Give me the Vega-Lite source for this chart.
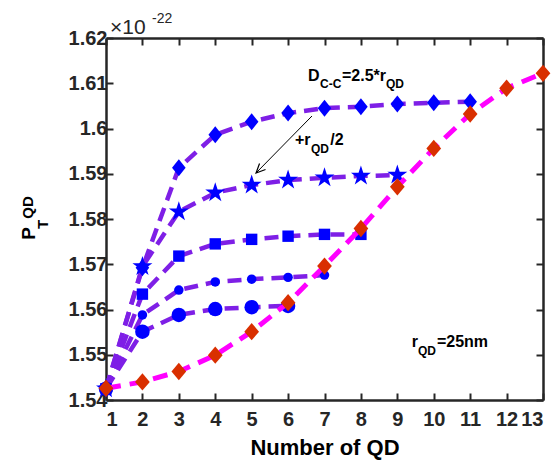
{
  "$schema": "https://vega.github.io/schema/vega-lite/v6.json",
  "width": 437,
  "height": 362,
  "autosize": {"type": "none"},
  "padding": {"left": 106, "top": 38, "right": 9, "bottom": 60},
  "background": "white",
  "config": {
    "view": {"stroke": null},
    "font": "Liberation Sans",
    "axis": {
      "domainColor": "#262626",
      "domainWidth": 2.5,
      "tickColor": "#262626",
      "tickWidth": 2,
      "tickSize": -7,
      "labelFont": "Liberation Sans",
      "labelFontWeight": "bold",
      "labelFontSize": 20,
      "labelColor": "#262626",
      "grid": false,
      "titleFont": "Liberation Sans",
      "titleFontWeight": "bold",
      "titleFontSize": 22,
      "titleColor": "#000000"
    }
  },
  "datasets": {
    "blue": [
      {"n": 1, "p": 1.5425, "series": "diamond"},
      {"n": 2, "p": 1.5692, "series": "diamond"},
      {"n": 3, "p": 1.5913, "series": "diamond"},
      {"n": 4, "p": 1.5986, "series": "diamond"},
      {"n": 5, "p": 1.6015, "series": "diamond"},
      {"n": 6, "p": 1.6034, "series": "diamond"},
      {"n": 7, "p": 1.6045, "series": "diamond"},
      {"n": 8, "p": 1.6048, "series": "diamond"},
      {"n": 9, "p": 1.6054, "series": "diamond"},
      {"n": 10, "p": 1.6057, "series": "diamond"},
      {"n": 11, "p": 1.6059, "series": "diamond"},
      {"n": 1, "p": 1.5425, "series": "star"},
      {"n": 2, "p": 1.5695, "series": "star"},
      {"n": 3, "p": 1.5816, "series": "star"},
      {"n": 4, "p": 1.5858, "series": "star"},
      {"n": 5, "p": 1.5875, "series": "star"},
      {"n": 6, "p": 1.5886, "series": "star"},
      {"n": 7, "p": 1.5891, "series": "star"},
      {"n": 8, "p": 1.5895, "series": "star"},
      {"n": 9, "p": 1.5897, "series": "star"},
      {"n": 1, "p": 1.5425, "series": "square"},
      {"n": 2, "p": 1.5634, "series": "square"},
      {"n": 3, "p": 1.5718, "series": "square"},
      {"n": 4, "p": 1.5745, "series": "square"},
      {"n": 5, "p": 1.5755, "series": "square"},
      {"n": 6, "p": 1.5762, "series": "square"},
      {"n": 7, "p": 1.5766, "series": "square"},
      {"n": 8, "p": 1.5766, "series": "square"},
      {"n": 1, "p": 1.5425, "series": "small circle"},
      {"n": 2, "p": 1.5588, "series": "small circle"},
      {"n": 3, "p": 1.5643, "series": "small circle"},
      {"n": 4, "p": 1.5661, "series": "small circle"},
      {"n": 5, "p": 1.5667, "series": "small circle"},
      {"n": 6, "p": 1.5671, "series": "small circle"},
      {"n": 7, "p": 1.5676, "series": "small circle"},
      {"n": 1, "p": 1.5425, "series": "large circle"},
      {"n": 2, "p": 1.5551, "series": "large circle"},
      {"n": 3, "p": 1.5588, "series": "large circle"},
      {"n": 4, "p": 1.5601, "series": "large circle"},
      {"n": 5, "p": 1.5605, "series": "large circle"},
      {"n": 6, "p": 1.5608, "series": "large circle"}
    ],
    "red": [
      {"n": 1, "p": 1.5426},
      {"n": 2, "p": 1.5440},
      {"n": 3, "p": 1.5463},
      {"n": 4, "p": 1.5499},
      {"n": 5, "p": 1.5551},
      {"n": 6, "p": 1.5615},
      {"n": 7, "p": 1.5696},
      {"n": 8, "p": 1.5779},
      {"n": 9, "p": 1.5871},
      {"n": 10, "p": 1.5956},
      {"n": 11, "p": 1.6032},
      {"n": 12, "p": 1.6089},
      {"n": 13, "p": 1.6122}
    ],
    "bigText": [
      {"n": 6.546, "p": 1.6105, "t": "D"},
      {"n": 7.48, "p": 1.6105, "t": "=2.5*r"},
      {"n": 6.19, "p": 1.59635, "t": "+r"},
      {"n": 7.16, "p": 1.59635, "t": "/2"},
      {"n": 9.394, "p": 1.55171, "t": "r"},
      {"n": 10.088, "p": 1.55171, "t": "=25nm"}
    ],
    "smallText": [
      {"n": 6.876, "p": 1.60895, "t": "C-C"},
      {"n": 8.688, "p": 1.60895, "t": "QD"},
      {"n": 6.63, "p": 1.59459, "t": "QD"},
      {"n": 9.567, "p": 1.54999, "t": "QD"}
    ],
    "arrow": [
      {"n": 6.656, "p": 1.60276, "n2": 5.12, "p2": 1.59017}
    ],
    "expo": [
      {"n": 1.11, "p": 1.62099, "t": "×10", "size": 21},
      {"n": 2.263, "p": 1.62325, "t": "-22", "size": 14}
    ],
    "ytitle": [
      {"n": -0.963, "p": 1.5768, "t": "P", "size": 19},
      {"n": -1.004, "p": 1.58254, "t": "QD", "size": 15},
      {"n": -0.5925, "p": 1.57878, "t": "T", "size": 15}
    ]
  },
  "resolve": {"axis": {"x": "independent", "y": "independent"}},
  "layer": [
    {
      "data": {"name": "blue"},
      "mark": {"type": "line", "color": "#7e1fe6", "strokeWidth": 4.5, "strokeDash": [14, 8]},
      "encoding": {
        "x": {"field": "n", "type": "quantitative", "scale": {"domain": [1, 13], "nice": false, "zero": false},
          "axis": {"orient": "bottom", "values": [1,2,3,4,5,6,7,8,9,10,11,12,13], "format": "d", "title": "Number of QD", "labelPadding": 16, "titlePadding": 8}},
        "y": {"field": "p", "type": "quantitative", "scale": {"domain": [1.54, 1.62], "nice": false, "zero": false},
          "axis": {"orient": "left", "values": [1.54,1.55,1.56,1.57,1.58,1.59,1.6,1.61,1.62], "format": ".2~f", "title": null, "labelPadding": 6}},
        "detail": {"field": "series"}
      }
    },
    {
      "data": {"name": "blue"},
      "transform": [{"filter": "datum.series == 'diamond'"}],
      "mark": {"type": "point", "shape": "M0,-1L0.8,0L0,1L-0.8,0Z", "filled": true, "opacity": 1, "color": "#0000ff", "size": 289},
      "encoding": {
        "x": {"field": "n", "type": "quantitative", "scale": {"domain": [1, 13], "nice": false, "zero": false}, "axis": null},
        "y": {"field": "p", "type": "quantitative", "scale": {"domain": [1.54, 1.62], "nice": false, "zero": false}, "axis": null}
      }
    },
    {
      "data": {"name": "blue"},
      "transform": [{"filter": "datum.series == 'star'"}],
      "mark": {"type": "point", "shape": "M0,-1L0.2245,-0.309L0.951,-0.309L0.363,0.118L0.588,0.809L0,0.382L-0.588,0.809L-0.363,0.118L-0.951,-0.309L-0.2245,-0.309Z", "filled": true, "opacity": 1, "color": "#0000ff", "size": 440},
      "encoding": {
        "x": {"field": "n", "type": "quantitative", "scale": {"domain": [1, 13], "nice": false, "zero": false}, "axis": null},
        "y": {"field": "p", "type": "quantitative", "scale": {"domain": [1.54, 1.62], "nice": false, "zero": false}, "axis": null}
      }
    },
    {
      "data": {"name": "blue"},
      "transform": [{"filter": "datum.series == 'square'"}],
      "mark": {"type": "point", "shape": "square", "filled": true, "opacity": 1, "color": "#0000ff", "size": 130},
      "encoding": {
        "x": {"field": "n", "type": "quantitative", "scale": {"domain": [1, 13], "nice": false, "zero": false}, "axis": null},
        "y": {"field": "p", "type": "quantitative", "scale": {"domain": [1.54, 1.62], "nice": false, "zero": false}, "axis": null}
      }
    },
    {
      "data": {"name": "blue"},
      "transform": [{"filter": "datum.series == 'small circle'"}],
      "mark": {"type": "point", "shape": "circle", "filled": true, "opacity": 1, "color": "#0000ff", "size": 90},
      "encoding": {
        "x": {"field": "n", "type": "quantitative", "scale": {"domain": [1, 13], "nice": false, "zero": false}, "axis": null},
        "y": {"field": "p", "type": "quantitative", "scale": {"domain": [1.54, 1.62], "nice": false, "zero": false}, "axis": null}
      }
    },
    {
      "data": {"name": "blue"},
      "transform": [{"filter": "datum.series == 'large circle'"}],
      "mark": {"type": "point", "shape": "circle", "filled": true, "opacity": 1, "color": "#0000ff", "size": 210},
      "encoding": {
        "x": {"field": "n", "type": "quantitative", "scale": {"domain": [1, 13], "nice": false, "zero": false}, "axis": null},
        "y": {"field": "p", "type": "quantitative", "scale": {"domain": [1.54, 1.62], "nice": false, "zero": false}, "axis": null}
      }
    },
    {
      "data": {"name": "red"},
      "mark": {"type": "line", "color": "#ff00ff", "strokeWidth": 5, "strokeDash": [15, 9]},
      "encoding": {
        "x": {"field": "n", "type": "quantitative", "scale": {"domain": [1, 13], "nice": false, "zero": false},
          "axis": {"orient": "top", "values": [1,2,3,4,5,6,7,8,9,10,11,12,13], "labels": false, "title": null}},
        "y": {"field": "p", "type": "quantitative", "scale": {"domain": [1.54, 1.62], "nice": false, "zero": false},
          "axis": {"orient": "right", "values": [1.54,1.55,1.56,1.57,1.58,1.59,1.6,1.61,1.62], "labels": false, "title": null}}
      }
    },
    {
      "data": {"name": "red"},
      "mark": {"type": "point", "shape": "M0,-1L0.85,0L0,1L-0.85,0Z", "filled": true, "opacity": 1, "color": "#d92f00", "size": 300},
      "encoding": {
        "x": {"field": "n", "type": "quantitative", "scale": {"domain": [1, 13], "nice": false, "zero": false}, "axis": null},
        "y": {"field": "p", "type": "quantitative", "scale": {"domain": [1.54, 1.62], "nice": false, "zero": false}, "axis": null}
      }
    },
    {
      "data": {"name": "arrow"},
      "mark": {"type": "rule", "color": "#000000", "strokeWidth": 1},
      "encoding": {
        "x": {"field": "n", "type": "quantitative", "scale": {"domain": [1, 13], "nice": false, "zero": false}, "axis": null},
        "y": {"field": "p", "type": "quantitative", "scale": {"domain": [1.54, 1.62], "nice": false, "zero": false}, "axis": null},
        "x2": {"field": "n2"},
        "y2": {"field": "p2"}
      }
    },
    {
      "data": {"name": "arrow"},
      "mark": {"type": "point", "shape": "M-0.6,-1.3L0,0L0.6,-1.3", "filled": false, "stroke": "#000000", "strokeWidth": 1.2, "opacity": 1, "size": 200, "angle": 45},
      "encoding": {
        "x": {"field": "n2", "type": "quantitative", "scale": {"domain": [1, 13], "nice": false, "zero": false}, "axis": null},
        "y": {"field": "p2", "type": "quantitative", "scale": {"domain": [1.54, 1.62], "nice": false, "zero": false}, "axis": null}
      }
    },
    {
      "data": {"name": "bigText"},
      "mark": {"type": "text", "align": "left", "baseline": "alphabetic", "font": "Liberation Sans", "fontWeight": "bold", "fontSize": 16, "color": "#000000"},
      "encoding": {
        "x": {"field": "n", "type": "quantitative", "scale": {"domain": [1, 13], "nice": false, "zero": false}, "axis": null},
        "y": {"field": "p", "type": "quantitative", "scale": {"domain": [1.54, 1.62], "nice": false, "zero": false}, "axis": null},
        "text": {"field": "t"}
      }
    },
    {
      "data": {"name": "smallText"},
      "mark": {"type": "text", "align": "left", "baseline": "alphabetic", "font": "Liberation Sans", "fontWeight": "bold", "fontSize": 12, "color": "#000000"},
      "encoding": {
        "x": {"field": "n", "type": "quantitative", "scale": {"domain": [1, 13], "nice": false, "zero": false}, "axis": null},
        "y": {"field": "p", "type": "quantitative", "scale": {"domain": [1.54, 1.62], "nice": false, "zero": false}, "axis": null},
        "text": {"field": "t"}
      }
    },
    {
      "data": {"name": "expo"},
      "mark": {"type": "text", "align": "left", "baseline": "alphabetic", "font": "Liberation Sans", "fontWeight": "normal", "color": "#262626"},
      "encoding": {
        "x": {"field": "n", "type": "quantitative", "scale": {"domain": [1, 13], "nice": false, "zero": false}, "axis": null},
        "y": {"field": "p", "type": "quantitative", "scale": {"domain": [1.54, 1.62], "nice": false, "zero": false}, "axis": null},
        "text": {"field": "t"},
        "size": {"field": "size", "type": "quantitative", "scale": null}
      }
    },
    {
      "data": {"name": "ytitle"},
      "mark": {"type": "text", "align": "center", "baseline": "alphabetic", "angle": 270, "font": "Liberation Sans", "fontWeight": "bold", "color": "#000000"},
      "encoding": {
        "x": {"field": "n", "type": "quantitative", "scale": {"domain": [1, 13], "nice": false, "zero": false}, "axis": null},
        "y": {"field": "p", "type": "quantitative", "scale": {"domain": [1.54, 1.62], "nice": false, "zero": false}, "axis": null},
        "text": {"field": "t"},
        "size": {"field": "size", "type": "quantitative", "scale": null}
      }
    }
  ]
}
